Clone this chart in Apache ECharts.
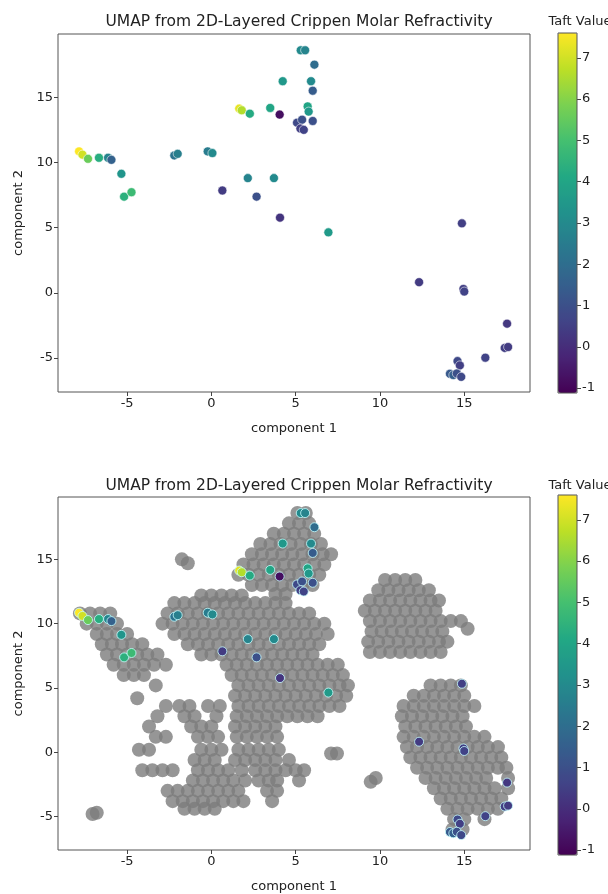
<!DOCTYPE html>
<html>
<head>
<meta charset="utf-8">
<title>UMAP Taft Value</title>
<script src="https://cdn.jsdelivr.net/npm/echarts@6/dist/echarts.min.js"></script>
<style>
  html, body { margin: 0; padding: 0; background: #fff; }
  #chart { width: 608px; height: 894px; }
</style>
</head>
<body>
<div id="chart"></div>
<script>
// tick values
var xTicks = [-5, 0, 5, 10, 15];
var yTicks = [-5, 0, 5, 10, 15];
var taftTicks = [-1, 0, 1, 2, 3, 4, 5, 6, 7];

// labelled molecules (UMAP coords + Taft value)
var compX = [-7.85, -7.65, -7.32, -6.67, -6.13, -5.93, -5.34, -5.18, -4.74, -2.2,
  -2.0, -0.22, 0.06, 0.65, 2.16, 3.71, 2.68, 1.65, 1.8, 2.28,
  3.49, 4.05, 4.23, 5.3, 5.56, 6.11, 5.91, 6.01, 5.71, 5.77,
  5.08, 5.38, 5.28, 5.48, 6.01, 4.07, 6.94, 14.86, 12.32, 14.95,
  15.0, 17.54, 17.4, 17.6, 16.25, 14.6, 14.74, 14.15, 14.35, 14.56, 14.82];
var compY = [10.85, 10.6, 10.28, 10.36, 10.36, 10.2, 9.13, 7.38, 7.72, 10.54,
  10.66, 10.85, 10.72, 7.85, 8.8, 8.8, 7.38, 14.13, 14.0, 13.74,
  14.18, 13.67, 16.23, 18.6, 18.6, 17.5, 16.23, 15.5, 14.3, 13.9,
  13.05, 13.28, 12.6, 12.5, 13.18, 5.77, 4.64, 5.33, 0.82, 0.3,
  0.1, -2.36, -4.22, -4.15, -4.97, -5.23, -5.56, -6.2, -6.3, -6.18, -6.44];
var taftValue = [7.6, 7.0, 5.6, 4.3, 2.8, 1.6, 3.4, 4.4, 4.8, 2.2,
  2.6, 2.5, 3.0, 0.4, 2.8, 3.0, 1.0, 7.3, 6.6, 4.2,
  4.0, -0.8, 3.5, 3.0, 2.8, 2.0, 3.0, 1.4, 4.0, 3.5,
  0.8, 1.0, 0.5, 0.6, 1.0, 0.2, 3.6, 0.5, 0.4, 0.5,
  0.6, 0.3, 0.5, 0.4, 0.6, 0.8, 0.5, 1.3, 1.5, 1.0, 0.8];

// full dataset cloud (grey), read as rows: [y, [x, x, ...]]
var cloudRows = [
  // left arm
  [10.8, [-7.8, -7.2, -6.6, -6.0]],
  [10.0, [-7.4, -6.8, -6.2, -5.6]],
  [9.2, [-6.8, -6.2, -5.6, -5.0]],
  [8.4, [-6.5, -5.9, -5.3, -4.7, -4.1]],
  [7.6, [-6.2, -5.6, -5.0, -4.4, -3.8, -3.2]],
  [6.8, [-5.8, -5.2, -4.6, -4.0, -3.4, -2.7]],
  [6.0, [-5.2, -4.6, -4.0]],
  [5.2, [-3.3]],
  [4.2, [-4.4]],
  [-4.8, [-7.05]],
  [-4.7, [-6.8]],
  [15.0, [-1.75]],
  [14.7, [-1.4]],
  // upper middle
  [18.6, [5.1, 5.6]],
  [17.8, [4.6, 5.2, 5.8]],
  [17.0, [3.7, 4.3, 4.9, 5.5, 6.1]],
  [16.2, [2.9, 3.5, 4.1, 4.7, 5.3, 5.9, 6.5]],
  [15.4, [2.4, 3.0, 3.6, 4.2, 4.8, 5.4, 6.0, 6.6, 7.1]],
  [14.6, [1.9, 2.5, 3.1, 3.7, 4.3, 4.9, 5.5, 6.1, 6.7]],
  [13.8, [1.6, 2.2, 2.8, 3.4, 4.0, 4.6, 5.2, 5.8, 6.4]],
  [13.0, [2.4, 3.0, 3.6, 4.2, 4.8, 5.4, 6.0]],
  [12.3, [3.8, 4.4]],
  // central
  [12.2, [-0.6, 0.0, 0.6, 1.2, 1.8]],
  [11.6, [-2.2, -1.6, -1.0, -0.4, 0.2, 0.8, 1.4, 2.0, 2.6, 3.2, 3.8, 4.4]],
  [10.8, [-2.6, -2.0, -1.4, -0.8, -0.2, 0.4, 1.0, 1.6, 2.2, 2.8, 3.4, 4.0, 4.6, 5.2, 5.8]],
  [10.0, [-2.9, -2.3, -1.7, -1.1, -0.5, 0.1, 0.7, 1.3, 1.9, 2.5, 3.1, 3.7, 4.3, 4.9, 5.5, 6.1, 6.7]],
  [9.2, [-2.2, -1.6, -1.0, -0.4, 0.2, 0.8, 1.4, 2.0, 2.6, 3.2, 3.8, 4.4, 5.0, 5.6, 6.2, 6.9]],
  [8.4, [-1.4, -0.8, -0.2, 0.4, 1.0, 1.6, 2.2, 2.8, 3.4, 4.0, 4.6, 5.2, 5.8, 6.4]],
  [7.6, [-0.6, 0.0, 0.6, 1.2, 1.8, 2.4, 3.0, 3.6, 4.2, 4.8, 5.4, 6.0]],
  [6.8, [0.9, 1.5, 2.1, 2.7, 3.3, 3.9, 4.5, 5.1, 5.7, 6.3, 6.9, 7.5]],
  [6.0, [1.2, 1.8, 2.4, 3.0, 3.6, 4.2, 4.8, 5.4, 6.0, 6.6, 7.2, 7.8]],
  [5.2, [1.6, 2.2, 2.8, 3.4, 4.0, 4.6, 5.2, 5.8, 6.4, 7.0, 7.6, 8.1]],
  [4.4, [1.4, 2.0, 2.6, 3.2, 3.8, 4.4, 5.0, 5.6, 6.2, 6.8, 7.4, 8.0]],
  [3.6, [-2.7, -1.9, -1.3, -0.2, 0.5, 1.6, 2.2, 2.8, 3.4, 4.0, 4.6, 5.2, 5.8, 6.4, 7.0, 7.6]],
  [2.8, [-3.2, -1.6, -1.0, 0.3, 1.5, 2.1, 2.7, 3.3, 3.9, 4.5, 5.1, 5.7, 6.3]],
  [2.0, [-3.7, -1.2, -0.6, 0.0, 1.4, 2.0, 2.6, 3.2, 3.8]],
  [1.2, [-3.3, -2.7, -0.8, -0.2, 0.4, 1.5, 2.1, 2.7, 3.3, 3.9]],
  [0.2, [-4.3, -3.7, -0.6, 0.0, 0.6, 1.6, 2.2, 2.8, 3.4, 4.0]],
  [-0.6, [-1.0, -0.4, 0.2, 1.4, 2.0, 2.6, 3.2, 3.8, 4.6]],
  [-1.4, [-4.1, -3.5, -2.9, -2.3, -0.8, -0.2, 0.4, 1.0, 1.8, 2.6, 3.2, 3.8, 4.4, 5.0, 5.5]],
  [-2.2, [-1.1, -0.5, 0.1, 0.7, 1.3, 2.0, 2.8, 3.4, 3.9, 5.2]],
  [-3.0, [-2.6, -2.0, -1.4, -0.8, -0.2, 0.4, 1.0, 1.6, 3.3, 3.9]],
  [-3.8, [-2.3, -1.7, -1.1, -0.5, 0.1, 0.7, 1.3, 1.9, 3.6]],
  [-4.4, [-1.6, -1.0, -0.4, 0.2]],
  [-0.1, [7.1, 7.45]],
  [-2.3, [9.45]],
  [-2.0, [9.75]],
  // right upper
  [13.4, [10.3, 10.9, 11.5, 12.1]],
  [12.6, [9.9, 10.5, 11.1, 11.7, 12.3, 12.9]],
  [11.8, [9.4, 10.0, 10.6, 11.2, 11.8, 12.4, 13.0, 13.5]],
  [11.0, [9.1, 9.7, 10.3, 10.9, 11.5, 12.1, 12.7, 13.3]],
  [10.2, [9.4, 10.0, 10.6, 11.2, 11.8, 12.4, 13.0, 13.6, 14.2, 14.8]],
  [9.6, [15.2]],
  [9.4, [9.5, 10.1, 10.7, 11.3, 11.9, 12.5, 13.1, 13.7]],
  [8.6, [9.3, 9.9, 10.5, 11.1, 11.7, 12.3, 12.9, 13.5, 14.0]],
  [7.8, [9.4, 10.0, 10.6, 11.2, 11.8, 12.4, 13.0, 13.6]],
  // right lower
  [5.2, [13.0, 13.6, 14.2, 14.8]],
  [4.4, [12.0, 12.6, 13.2, 13.8, 14.4, 15.0]],
  [3.6, [11.4, 12.0, 12.6, 13.2, 13.8, 14.4, 15.0, 15.6]],
  [2.8, [11.3, 11.9, 12.5, 13.1, 13.7, 14.3, 14.9]],
  [2.0, [11.5, 12.1, 12.7, 13.3, 13.9, 14.5, 15.1]],
  [1.2, [11.4, 12.0, 12.6, 13.2, 13.8, 14.4, 15.0, 15.6, 16.2]],
  [0.4, [11.6, 12.2, 12.8, 13.4, 14.0, 14.6, 15.2, 15.8, 16.4, 17.0]],
  [-0.4, [11.8, 12.4, 13.0, 13.6, 14.2, 14.8, 15.4, 16.0, 16.6, 17.2]],
  [-1.2, [12.2, 12.8, 13.4, 14.0, 14.6, 15.2, 15.8, 16.4, 17.0, 17.5]],
  [-2.0, [12.7, 13.3, 13.9, 14.5, 15.1, 15.7, 16.3, 17.6]],
  [-2.8, [13.2, 13.8, 14.4, 15.0, 15.6, 16.2, 16.8, 17.6]],
  [-3.6, [13.6, 14.2, 14.8, 15.4, 16.0, 16.6, 17.2]],
  [-4.4, [14.0, 14.6, 15.2, 15.8, 16.4, 17.0]],
  [-5.2, [14.4, 15.0, 16.2]],
  [-6.0, [14.3, 14.9]]
];

var viridis = ['#440154', '#482475', '#414487', '#355f8d', '#2a788e', '#21918c',
  '#22a884', '#44bf70', '#7ad151', '#bddf26', '#fde725'];

var labelled = compX.map(function (x, i) { return [x, compY[i], taftValue[i]]; });
var cloud = [];
cloudRows.forEach(function (row) {
  row[1].forEach(function (x) { cloud.push([x, row[0]]); });
});

var font = 'DejaVu Sans';
var textColor = '#222';
var plotTitle = 'UMAP from 2D-Layered Crippen Molar Refractivity';

function mainX(gi) {
  return {
    gridIndex: gi, type: 'value', min: -9.1, max: 18.9,
    name: 'component 1', nameLocation: 'middle', nameGap: 30,
    nameTextStyle: { fontFamily: font, fontSize: 13, color: textColor },
    axisLine: { show: false, onZero: false }, splitLine: { show: false },
    axisTick: { show: true, length: 4, lineStyle: { color: '#444' }, customValues: xTicks },
    axisLabel: { fontFamily: font, fontSize: 13, color: textColor, margin: 5, customValues: xTicks }
  };
}
function mainY(gi) {
  return {
    gridIndex: gi, type: 'value', min: -7.6, max: 19.85,
    name: 'component 2', nameLocation: 'middle', nameGap: 31,
    nameTextStyle: { fontFamily: font, fontSize: 13, color: textColor },
    axisLine: { show: false, onZero: false }, splitLine: { show: false },
    axisTick: { show: true, length: 4, lineStyle: { color: '#444' }, customValues: yTicks },
    axisLabel: { fontFamily: font, fontSize: 13, color: textColor, margin: 5, customValues: yTicks }
  };
}
function barX(gi) {
  return { gridIndex: gi, type: 'value', min: 0, max: 1, show: false };
}
function barY(gi) {
  return {
    gridIndex: gi, type: 'value', min: -1.12, max: 7.6, position: 'right',
    axisLine: { show: false, onZero: false }, splitLine: { show: false },
    axisTick: { show: true, length: 4, lineStyle: { color: '#444' }, customValues: taftTicks },
    axisLabel: { fontFamily: font, fontSize: 13, color: textColor, margin: 5, customValues: taftTicks }
  };
}
function colorMap(si, top) {
  return {
    type: 'continuous', seriesIndex: si, min: -1.12, max: 7.6,
    inRange: { color: viridis }, left: 558, top: top,
    itemWidth: 19, itemHeight: 360, padding: 0, calculable: false, text: null
  };
}
function heading(text, x, y, size) {
  return { text: text, left: x, top: y, textAlign: 'center',
    textStyle: { fontFamily: font, fontSize: size, fontWeight: 'normal', color: textColor } };
}

var chart = echarts.init(document.getElementById('chart'));
var option = {
  backgroundColor: '#fff',
  animation: false,
  title: [
    heading(plotTitle, 294, 9, 15.5),
    heading(plotTitle, 294, 473, 15.5),
    heading('Taft Value', 575, 10, 13),
    heading('Taft Value', 575, 474, 13)
  ],
  grid: [
    { left: 58, top: 34, width: 472, height: 358, show: true, borderColor: '#555', borderWidth: 1 },
    { left: 58, top: 497, width: 472, height: 358, show: true, borderColor: '#555', borderWidth: 1 },
    { left: 558, top: 33, width: 19, height: 360, show: true, borderColor: '#555', borderWidth: 1, z: 6 },
    { left: 558, top: 495, width: 19, height: 360, show: true, borderColor: '#555', borderWidth: 1, z: 6 }
  ],
  xAxis: [mainX(0), mainX(1), barX(2), barX(3)],
  yAxis: [mainY(0), mainY(1), barY(2), barY(3)],
  visualMap: [colorMap(0, 33), colorMap(2, 495)],
  series: [
    {
      type: 'scatter', xAxisIndex: 0, yAxisIndex: 0, data: labelled,
      symbolSize: 9, itemStyle: { borderColor: 'rgba(255,255,255,0.7)', borderWidth: 0.8, opacity: 1 }
    },
    {
      type: 'scatter', xAxisIndex: 1, yAxisIndex: 1, data: cloud,
      symbolSize: 14, itemStyle: { color: '#7c7c7c', opacity: 0.8 }
    },
    {
      type: 'scatter', xAxisIndex: 1, yAxisIndex: 1, data: labelled,
      symbolSize: 9, itemStyle: { borderColor: 'rgba(200,255,255,0.8)', borderWidth: 1, opacity: 1 }
    }
  ]
};
chart.setOption(option);
</script>
</body>
</html>
